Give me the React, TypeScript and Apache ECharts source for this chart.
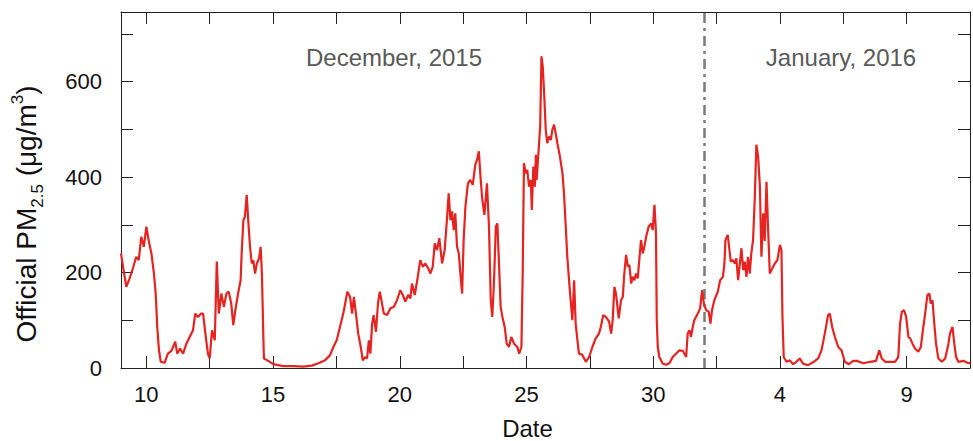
import React, { useEffect, useRef } from 'react';
import * as echarts from 'echarts';

// Time in days (day-of-month of December 2015; values above 31 are January 2016)
const days = [
  9.00, 9.08, 9.21, 9.34, 9.47, 9.60, 9.70, 9.80, 9.90, 10.00, 10.09, 10.20, 10.30, 10.37, 10.43, 10.50, 10.57, 10.72, 10.85, 10.99,
  11.14, 11.22, 11.33, 11.45, 11.58, 11.71, 11.84, 11.93, 12.04, 12.15, 12.24, 12.33, 12.43, 12.50, 12.59, 12.70, 12.78, 12.86, 12.96, 13.06,
  13.16, 13.25, 13.35, 13.43, 13.51, 13.62, 13.72, 13.76, 13.83, 13.89, 13.96, 14.02, 14.09, 14.16, 14.22, 14.29, 14.36, 14.45, 14.51, 14.56,
  14.62, 14.64, 14.81, 15.01, 15.40, 15.80, 16.19, 16.53, 16.79, 17.05, 17.25, 17.38, 17.51, 17.64, 17.77, 17.87, 17.93, 18.04, 18.12, 18.19,
  18.27, 18.36, 18.46, 18.54, 18.63, 18.71, 18.78, 18.84, 18.91, 18.97, 19.06, 19.14, 19.21, 19.30, 19.37, 19.50, 19.63, 19.76, 19.89, 20.02,
  20.12, 20.22, 20.33, 20.42, 20.48, 20.59, 20.68, 20.81, 20.91, 21.01, 21.12, 21.21, 21.30, 21.38, 21.47, 21.56, 21.67, 21.77, 21.87, 21.93,
  22.00, 22.06, 22.13, 22.19, 22.26, 22.33, 22.39, 22.46, 22.52, 22.59, 22.69, 22.78, 22.88, 22.98, 23.05, 23.12, 23.18, 23.25, 23.34, 23.44,
  23.52, 23.59, 23.65, 23.72, 23.79, 23.85, 23.92, 23.98, 24.05, 24.14, 24.22, 24.31, 24.40, 24.51, 24.64, 24.71, 24.80, 24.85, 24.90, 24.97,
  25.03, 25.10, 25.17, 25.21, 25.27, 25.33, 25.37, 25.40, 25.47, 25.54, 25.59, 25.64, 25.69, 25.76, 25.82, 25.89, 25.96, 26.02, 26.09, 26.15,
  26.22, 26.32, 26.42, 26.48, 26.55, 26.61, 26.72, 26.81, 26.88, 26.94, 27.01, 27.07, 27.20, 27.34, 27.47, 27.60, 27.73, 27.86, 27.93, 28.03,
  28.13, 28.26, 28.34, 28.40, 28.47, 28.53, 28.64, 28.73, 28.80, 28.86, 28.93, 29.00, 29.06, 29.13, 29.19, 29.26, 29.32, 29.39, 29.45, 29.52,
  29.59, 29.65, 29.72, 29.82, 29.92, 29.98, 30.05, 30.11, 30.14, 30.18, 30.24, 30.38, 30.51, 30.64, 30.77, 30.90, 31.03, 31.17, 31.30, 31.36,
  31.43, 31.49, 31.56, 31.62, 31.76, 31.85, 31.93, 32.00, 32.09, 32.19, 32.26, 32.32, 32.41, 32.55, 32.64, 32.75, 32.81, 32.85, 32.94, 33.01,
  33.06, 33.14, 33.22, 33.28, 33.35, 33.42, 33.48, 33.55, 33.61, 33.68, 33.74, 33.81, 33.87, 33.94, 34.01, 34.07, 34.14, 34.21, 34.27, 34.34,
  34.40, 34.47, 34.53, 34.60, 34.66, 34.80, 34.90, 35.00, 35.06, 35.10, 35.15, 35.26, 35.39, 35.52, 35.65, 35.78, 35.91, 36.11, 36.31, 36.51,
  36.64, 36.77, 36.90, 36.97, 37.06, 37.17, 37.30, 37.43, 37.56, 37.72, 37.89, 38.03, 38.29, 38.56, 38.79, 38.92, 39.02, 39.15, 39.35, 39.54,
  39.67, 39.74, 39.81, 39.90, 39.98, 40.07, 40.14, 40.23, 40.33, 40.46, 40.56, 40.64, 40.73, 40.82, 40.90, 40.95, 41.02, 41.08, 41.16, 41.25,
  41.39, 41.52, 41.65, 41.71, 41.81, 41.88, 41.95, 42.04, 42.24, 42.44, 42.50,
];

// Official PM2.5 (µg/m3)
const pm25 = [
  240, 212, 170, 188, 209, 233, 226, 275, 254, 296, 268, 240, 198, 156, 86, 37, 13, 11, 30, 36,
  55, 30, 41, 30, 51, 65, 79, 114, 107, 114, 114, 72, 30, 20, 79, 58, 223, 114, 156, 128,
  156, 160, 135, 90, 121, 156, 184, 240, 310, 317, 363, 310, 254, 219, 226, 198, 219, 230, 254, 198,
  58, 20, 15, 8, 4, 4, 3, 5, 10, 16, 27, 44, 58, 86, 114, 142, 160, 149, 114, 149,
  114, 72, 44, 16, 23, 20, 58, 30, 93, 111, 76, 135, 160, 135, 114, 111, 125, 128, 142, 163,
  153, 139, 153, 146, 177, 153, 181, 226, 212, 219, 209, 198, 212, 261, 247, 272, 219, 247, 317, 366,
  310, 328, 289, 324, 254, 240, 198, 156, 268, 338, 387, 394, 384, 426, 436, 454, 405, 356, 321, 387,
  296, 142, 107, 184, 296, 303, 212, 128, 107, 86, 51, 44, 65, 51, 44, 30, 44, 198, 429, 408,
  415, 380, 394, 331, 422, 380, 447, 394, 450, 506, 653, 632, 583, 499, 471, 485, 478, 499, 510, 492,
  471, 443, 408, 366, 296, 233, 156, 100, 184, 93, 58, 30, 28, 13, 23, 44, 62, 72, 86, 111,
  107, 97, 72, 100, 170, 156, 104, 142, 149, 198, 237, 212, 216, 177, 191, 184, 198, 188, 226, 268,
  240, 254, 275, 296, 303, 289, 342, 282, 100, 44, 23, 9, 7, 10, 23, 30, 37, 36, 23, 72,
  79, 65, 86, 100, 114, 125, 163, 135, 121, 118, 93, 121, 142, 160, 184, 191, 219, 268, 279, 247,
  223, 226, 219, 230, 184, 219, 251, 205, 223, 191, 233, 198, 240, 268, 359, 468, 443, 380, 233, 324,
  266, 390, 296, 198, 205, 219, 226, 258, 247, 107, 23, 13, 16, 8, 13, 20, 9, 6, 12, 20,
  37, 72, 111, 114, 86, 65, 44, 37, 13, 8, 15, 15, 10, 13, 15, 37, 20, 13, 13, 13,
  23, 93, 118, 121, 107, 65, 62, 51, 41, 34, 44, 79, 114, 153, 156, 135, 142, 100, 51, 20,
  13, 20, 51, 72, 86, 51, 23, 13, 15, 10, 11,
];

const xMin = 9;
const xMax = 42.5;
const xTickValues = [10, 12.5, 15, 17.5, 20, 22.5, 25, 27.5, 30, 32.5, 35, 37.5, 40, 42.5];
const xLabelValues = [10, 15, 20, 25, 30, 35, 40];
const yMin = 0;
const yMax = 746;
const yTickValues = [0, 100, 200, 300, 400, 500, 600, 700];
const yLabelValues = [0, 200, 400, 600];
const monthBoundary = 32; // 1 January 2016, 00:00
const monthLabels = ['December, 2015', 'January, 2016'];
const xTitle = 'Date';

const FONT = '"Liberation Sans", Arial, Helvetica, sans-serif';

export default function App() {
  const ref = useRef<HTMLDivElement>(null);

  useEffect(() => {
    if (!ref.current) return;
    const chart = echarts.init(ref.current, null, { renderer: 'svg' });
    const data = days.map((d, i) => [d, pm25[i]]);
    const axisLine = { show: true, onZero: false, lineStyle: { color: '#222', width: 1 } };
    const tickStyle = { color: '#222', width: 1 };

    chart.setOption({
      animation: false,
      backgroundColor: '#fff',
      grid: { left: 121, right: 3, top: 12, bottom: 73, containLabel: false },
      xAxis: [
        {
          type: 'value',
          min: xMin,
          max: xMax,
          position: 'bottom',
          axisLine,
          axisTick: { show: true, inside: true, length: 12, lineStyle: tickStyle, customValues: xTickValues },
          axisLabel: {
            show: true,
            customValues: xLabelValues,
            margin: 15,
            fontSize: 22,
            fontFamily: FONT,
            color: '#111',
            formatter: (v: number) => String(v > 31 ? v - 31 : v),
          },
          splitLine: { show: false },
        },
        {
          type: 'value',
          min: xMin,
          max: xMax,
          position: 'top',
          axisLine,
          axisTick: { show: true, inside: true, length: 12, lineStyle: tickStyle, customValues: xTickValues },
          axisLabel: { show: false },
          splitLine: { show: false },
        },
      ],
      yAxis: [
        {
          type: 'value',
          min: yMin,
          max: yMax,
          position: 'left',
          axisLine,
          axisTick: { show: true, inside: true, length: 12, lineStyle: tickStyle, customValues: yTickValues },
          axisLabel: {
            show: true,
            customValues: yLabelValues,
            margin: 19,
            fontSize: 22,
            fontFamily: FONT,
            color: '#111',
          },
          splitLine: { show: false },
        },
        {
          type: 'value',
          min: yMin,
          max: yMax,
          position: 'right',
          axisLine,
          axisTick: { show: true, inside: true, length: 12, lineStyle: tickStyle, customValues: yTickValues },
          axisLabel: { show: false },
          splitLine: { show: false },
        },
      ],
      series: [
        {
          type: 'line',
          xAxisIndex: 0,
          yAxisIndex: 0,
          data,
          showSymbol: false,
          symbol: 'none',
          smooth: false,
          lineStyle: { color: '#e52421', width: 2.2 },
          z: 3,
          markLine: {
            silent: true,
            symbol: ['none', 'none'],
            label: { show: false },
            lineStyle: { color: '#7a7a7a', width: 2.5, type: [10, 5, 3, 5] },
            data: [{ xAxis: monthBoundary }],
            z: 2,
          },
        },
      ],
      graphic: [
        {
          type: 'text',
          x: 26,
          y: 214,
          rotation: Math.PI / 2,
          style: {
            text: '{m|Official PM}{s|2.5}{m| (μg/m}{p|3}{m|)}',
            align: 'center',
            verticalAlign: 'middle',
            fill: '#111',
            rich: {
              m: { fontSize: 28, fontFamily: FONT, fill: '#111', color: '#111', lineHeight: 34 },
              s: { fontSize: 17, fontFamily: FONT, fill: '#111', color: '#111', verticalAlign: 'bottom', lineHeight: 34, padding: [0, 0, -3, 0] },
              p: { fontSize: 17, fontFamily: FONT, fill: '#111', color: '#111', verticalAlign: 'top', lineHeight: 34 },
            },
          },
        },
        {
          type: 'text',
          x: 527.5,
          y: 428,
          style: {
            text: xTitle,
            align: 'center',
            verticalAlign: 'middle',
            fontSize: 24,
            fontFamily: FONT,
            fill: '#111',
          },
        },
        {
          type: 'text',
          x: 394,
          y: 57,
          style: {
            text: monthLabels[0],
            align: 'center',
            verticalAlign: 'middle',
            fontSize: 24,
            fontFamily: FONT,
            fill: '#595959',
          },
        },
        {
          type: 'text',
          x: 841,
          y: 57,
          style: {
            text: monthLabels[1],
            align: 'center',
            verticalAlign: 'middle',
            fontSize: 24,
            fontFamily: FONT,
            fill: '#595959',
          },
        },
      ],
    });

    return () => chart.dispose();
  }, []);

  return (
    <div
      ref={ref}
      style={{ position: 'absolute', left: 0, top: 0, width: 973, height: 441, background: '#fff' }}
    />
  );
}
